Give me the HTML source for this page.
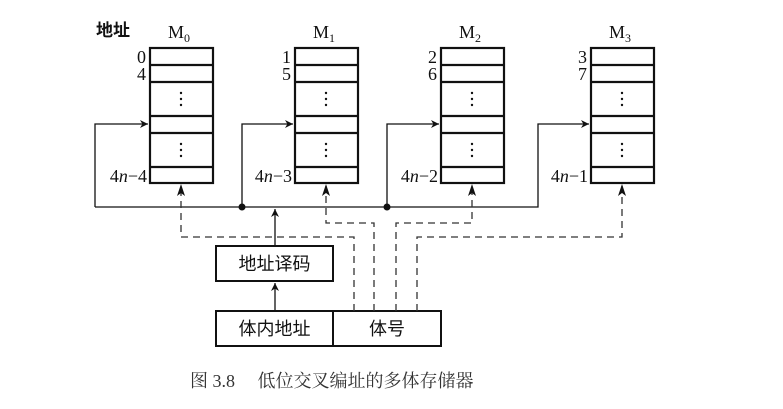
<!DOCTYPE html>
<html><head><meta charset="utf-8"><style>
html,body{margin:0;padding:0;background:#fff;}
svg{display:block;}
text{font-family:"Liberation Serif","Noto Serif CJK SC",serif;fill:#111;}
.cjk{font-family:"Liberation Sans","Noto Sans CJK SC",sans-serif;}
.song{font-family:"Liberation Serif","Noto Serif CJK SC",serif;}
</style></head><body>
<svg width="783" height="409" viewBox="0 0 783 409" xmlns="http://www.w3.org/2000/svg">
<defs>
<marker id="ar" viewBox="0 0 10 10" refX="10" refY="5" markerWidth="10" markerHeight="8" markerUnits="userSpaceOnUse" orient="auto">
<path d="M0,0 L10,5 L0,10 L3,5 z" fill="#111"/>
</marker>
</defs>
<g stroke="#111" fill="none">
<g stroke-width="2.2">
<rect x="150" y="48" width="63" height="135"/>
<rect x="295" y="48" width="63" height="135"/>
<rect x="441" y="48" width="63" height="135"/>
<rect x="591" y="48" width="63" height="135"/>
<path d="M150 65H213M150 82H213M150 116H213M150 133H213M150 167H213"/>
<path d="M295 65H358M295 82H358M295 116H358M295 133H358M295 167H358"/>
<path d="M441 65H504M441 82H504M441 116H504M441 133H504M441 167H504"/>
<path d="M591 65H654M591 82H654M591 116H654M591 133H654M591 167H654"/>
</g>
<g stroke-width="1.3">
<path d="M95 207H538V124H589" marker-end="url(#ar)"/>
<path d="M95 207V124H148" marker-end="url(#ar)"/>
<path d="M242 207V124H293" marker-end="url(#ar)"/>
<path d="M387 207V124H439" marker-end="url(#ar)"/>
<path d="M275 246V209" marker-end="url(#ar)"/>
<path d="M275 311V283" marker-end="url(#ar)"/>
</g>
<g stroke-width="2">
<rect x="216" y="246" width="117" height="35"/>
<rect x="216" y="311" width="225" height="35"/>
<path d="M333 311V346"/>
</g>
<g stroke-width="1.3" stroke-dasharray="7,5" stroke="#333">
<path d="M354 311V237H181V186"/>
<path d="M374 311V223H326V186"/>
<path d="M396 311V223H472V186"/>
<path d="M417 311V237H622V186"/>
</g>
</g>
<g fill="#111">
<path d="M181 184l-4 12l4-3l4 3z"/>
<path d="M326 184l-4 12l4-3l4 3z"/>
<path d="M472 184l-4 12l4-3l4 3z"/>
<path d="M622 184l-4 12l4-3l4 3z"/>
<circle cx="242" cy="207" r="3.5"/>
<circle cx="387" cy="207" r="3.5"/>
<g>
<circle cx="181" cy="93" r="1.2"/><circle cx="181" cy="99" r="1.2"/><circle cx="181" cy="105" r="1.2"/>
<circle cx="181" cy="144" r="1.2"/><circle cx="181" cy="150" r="1.2"/><circle cx="181" cy="156" r="1.2"/>
<circle cx="326" cy="93" r="1.2"/><circle cx="326" cy="99" r="1.2"/><circle cx="326" cy="105" r="1.2"/>
<circle cx="326" cy="144" r="1.2"/><circle cx="326" cy="150" r="1.2"/><circle cx="326" cy="156" r="1.2"/>
<circle cx="472" cy="93" r="1.2"/><circle cx="472" cy="99" r="1.2"/><circle cx="472" cy="105" r="1.2"/>
<circle cx="472" cy="144" r="1.2"/><circle cx="472" cy="150" r="1.2"/><circle cx="472" cy="156" r="1.2"/>
<circle cx="622" cy="93" r="1.2"/><circle cx="622" cy="99" r="1.2"/><circle cx="622" cy="105" r="1.2"/>
<circle cx="622" cy="144" r="1.2"/><circle cx="622" cy="150" r="1.2"/><circle cx="622" cy="156" r="1.2"/>
</g>
</g>
<text class="cjk" x="96" y="36" font-size="17" font-weight="bold">地址</text>
<g font-size="18">
<text x="168" y="38">M<tspan font-size="12" dy="4">0</tspan></text>
<text x="313" y="38">M<tspan font-size="12" dy="4">1</tspan></text>
<text x="459" y="38">M<tspan font-size="12" dy="4">2</tspan></text>
<text x="609" y="38">M<tspan font-size="12" dy="4">3</tspan></text>
</g>
<g font-size="18" text-anchor="end">
<text x="146" y="63">0</text><text x="146" y="80">4</text>
<text x="291" y="63">1</text><text x="291" y="80">5</text>
<text x="437" y="63">2</text><text x="437" y="80">6</text>
<text x="587" y="63">3</text><text x="587" y="80">7</text>
<text x="147" y="182">4<tspan font-style="italic">n</tspan>−4</text>
<text x="292" y="182">4<tspan font-style="italic">n</tspan>−3</text>
<text x="438" y="182">4<tspan font-style="italic">n</tspan>−2</text>
<text x="588" y="182">4<tspan font-style="italic">n</tspan>−1</text>
</g>
<g font-size="18" text-anchor="middle">
<text class="cjk" x="274.5" y="270">地址译码</text>
<text class="cjk" x="274.5" y="335">体内地址</text>
<text class="cjk" x="387" y="335">体号</text>
</g>
<text class="song" x="190" y="387" font-size="18" style="fill:#333">图 3.8　 低位交叉编址的多体存储器</text>
</svg>
</body></html>
